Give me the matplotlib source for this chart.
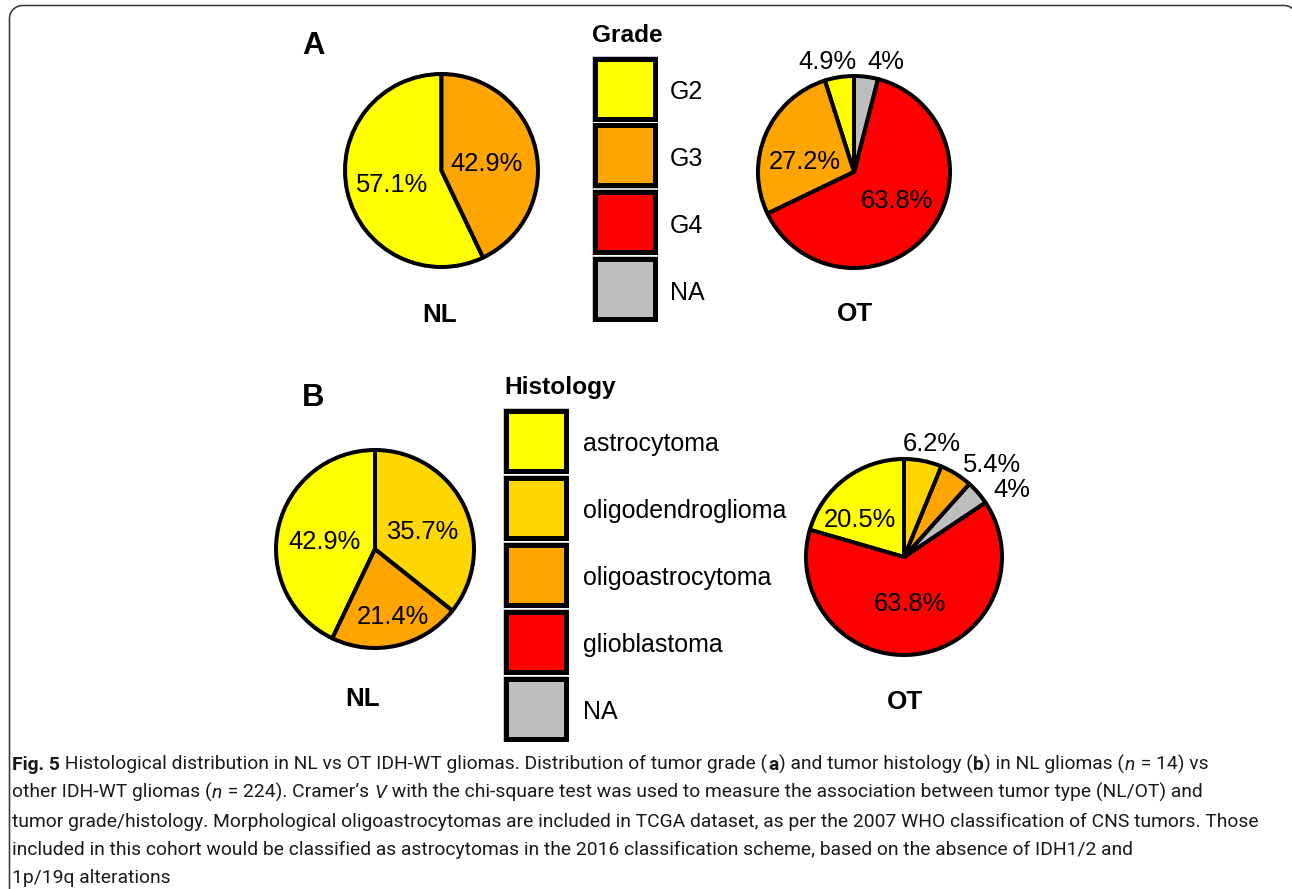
import matplotlib
matplotlib.use("Agg")
import matplotlib.pyplot as plt
from matplotlib.patches import Rectangle
from matplotlib.path import Path
from matplotlib.patches import PathPatch
import numpy as np

# ---------------------------------------------------------------- data
grade_levels = ["G2", "G3", "G4", "NA"]
grade_colors = ["#FFFF00", "#FFA500", "#FF0000", "#BEBEBE"]
grade_nl = [57.1, 42.9, 0.0, 0.0]
grade_ot = [4.9, 27.2, 63.8, 4.0]

hist_levels = ["astrocytoma", "oligodendroglioma", "oligoastrocytoma",
               "glioblastoma", "NA"]
hist_colors = ["#FFFF00", "#FFD700", "#FFA500", "#FF0000", "#BEBEBE"]
hist_nl = [42.9, 35.7, 21.4, 0.0, 0.0]
hist_ot = [20.5, 6.2, 5.4, 63.8, 4.0]

group_labels = ["NL", "OT"]
panel_labels = ["A", "B"]
legend_titles = ["Grade", "Histology"]

# slices run counter-clockwise from 12 o'clock in alphabetical level order
grade_pie_order = [0, 1, 2, 3]
hist_pie_order = [0, 3, 4, 2, 1]

caption_lines = [
    [("Fig. 5", "bold"),
     (" Histological distribution in NL vs OT IDH-WT gliomas. Distribution of tumor grade (", "normal"),
     ("a", "bold"), (") and tumor histology (", "normal"), ("b", "bold"),
     (") in NL gliomas (", "normal"), ("n", "italic"), (" = 14) vs", "normal")],
    [("other IDH-WT gliomas (", "normal"), ("n", "italic"),
     (" = 224). Cramer\u2019s ", "normal"), ("V", "italic"),
     (" with the chi-square test was used to measure the association between tumor type (NL/OT) and", "normal")],
    [("tumor grade/histology. Morphological oligoastrocytomas are included in TCGA dataset, as per the 2007 WHO classification of CNS tumors. Those", "normal")],
    [("included in this cohort would be classified as astrocytomas in the 2016 classification scheme, based on the absence of IDH1/2 and", "normal")],
    [("1p/19q alterations", "normal")],
]

# ---------------------------------------------------------------- layout
W, H = 1292, 889
DPI = 100
PT = 72.0 / DPI          # points per pixel
SANS = ["Liberation Sans", "Arimo", "DejaVu Sans"]
CAP_FONT = ["Roboto", "Open Sans", "DejaVu Sans"]

fig = plt.figure(figsize=(W / DPI, H / DPI), dpi=DPI)
ax = fig.add_axes([0, 0, 1, 1])


def Y(y):
    return H - y


def ctext(x, y, s, px, weight="normal", ha="center"):
    """Text whose capitals are vertically centred on pixel row y."""
    ax.text(x, Y(y) - 0.358 * px, s, fontsize=px * PT, family=SANS,
            weight=weight, ha=ha, va="baseline", color="black")


def draw_pie(values, colors, order, cx, cy, r_out, label_pos):
    vals = [values[i] for i in order if values[i] > 0]
    cols = [colors[i] for i in order if values[i] > 0]
    idx = [i for i in order if values[i] > 0]
    lw_px = 4.0
    ax.pie(vals, colors=cols, startangle=90, counterclock=True,
           center=(cx, Y(cy)), radius=r_out - lw_px / 2,
           wedgeprops=dict(edgecolor="black", linewidth=lw_px * PT,
                           joinstyle="round"))
    for i in idx:
        dx, dy = label_pos[i]
        ctext(cx + dx * r_out, cy - dy * r_out, f"{values[i]:g}%", 25.5)


def draw_legend(title, levels, colors, x0, y0, size, step, title_xy, text_dx):
    ctext(title_xy[0], title_xy[1], title, 24.5, weight="bold", ha="left")
    lw = 5.0
    for k, (lev, col) in enumerate(zip(levels, colors)):
        top = y0 + k * step
        ax.add_patch(Rectangle((x0, Y(top + size)), size, size, facecolor="none",
                               edgecolor="#C8C8C8", linewidth=1.0 * PT))
        ax.add_patch(Rectangle((x0 + lw / 2, Y(top + size - lw / 2)),
                               size - lw, size - lw, facecolor=col,
                               edgecolor="black", linewidth=lw * PT,
                               joinstyle="miter"))
        ctext(x0 + text_dx, top + size / 2 + 2, lev, 25, ha="left")


# panel A: grade
draw_pie(grade_nl, grade_colors, grade_pie_order, 441.5, 170.5, 98.5,
         {0: (-0.50, -0.13), 1: (0.46, 0.09)})
draw_pie(grade_ot, grade_colors, grade_pie_order, 854, 172, 98,
         {0: (-0.27, 1.14), 1: (-0.50, 0.12), 2: (0.44, -0.27), 3: (0.32, 1.14)})
draw_legend(legend_titles[0], grade_levels, grade_colors,
            592, 56, 65, 66.7, (592, 33), 78)
ctext(313.5, 43, panel_labels[0], 31, weight="bold")
ctext(440, 313, group_labels[0], 26, weight="bold")
ctext(855, 312, group_labels[1], 26, weight="bold")

# panel B: histology
draw_pie(hist_nl, hist_colors, hist_pie_order, 375, 549, 101,
         {0: (-0.50, 0.09), 1: (0.47, 0.19), 2: (0.18, -0.65)})
draw_pie(hist_ot, hist_colors, hist_pie_order, 904, 557, 100,
         {0: (-0.44, 0.39), 1: (0.28, 1.15), 2: (0.88, 0.94),
          3: (0.06, -0.45), 4: (1.08, 0.69)})
draw_legend(legend_titles[1], hist_levels, hist_colors,
            503, 408, 65, 67, (504, 385), 80)
ctext(313, 395, panel_labels[1], 31, weight="bold")
ctext(363, 697, group_labels[0], 26, weight="bold")
ctext(905, 700, group_labels[1], 26, weight="bold")

# outer frame: left side, top side and two rounded upper corners
left, top, right, rad = 9.5, 5.5, 1297.0, 13.0
t1 = np.linspace(np.pi, np.pi / 2, 20)
t2 = np.linspace(np.pi / 2, 0, 20)
xs = np.concatenate([[left], left + rad + rad * np.cos(t1),
                     right - rad + rad * np.cos(t2), [right]])
ys = np.concatenate([[H + 20], top + rad - rad * np.sin(t1),
                     top + rad - rad * np.sin(t2), [H + 20]])
ax.plot(xs, Y(ys), color="#3a3a3a", linewidth=1.6 * PT, clip_on=False,
        solid_joinstyle="round")

ax.set_xlim(0, W)
ax.set_ylim(0, H)
ax.set_aspect("auto")
ax.axis("off")

# ---------------------------------------------------------------- caption
renderer = fig.canvas.get_renderer()


def run_props(style):
    return dict(family=CAP_FONT,
                weight="bold" if style == "bold" else "normal",
                style="italic" if style == "italic" else "normal")


# size the caption so its longest line spans the text block
probe = ax.text(0, 0, caption_lines[2][0][0], fontsize=14, **run_props("normal"))
probe_w = probe.get_window_extent(renderer).width
probe.remove()
cap_size = 14 * (1265 - 12) / probe_w

baselines = [770, 798, 827, 855, 883]
for line, yb in zip(caption_lines, baselines):
    x = 12
    for s, style in line:
        t = ax.text(x, Y(yb), s, fontsize=cap_size, ha="left", va="baseline",
                    color="#1a1a1a", **run_props(style))
        x += t.get_window_extent(renderer).width + 0.5

fig.savefig("out.png", dpi=DPI, facecolor="white")
